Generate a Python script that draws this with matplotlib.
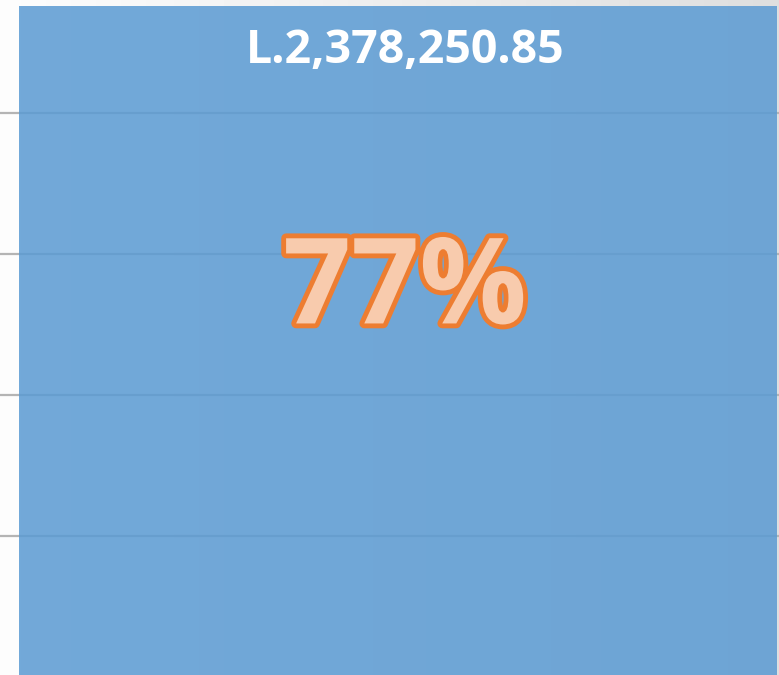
import numpy as np
import matplotlib.pyplot as plt
import matplotlib.patheffects as pe

categories = ['Total']
values = [2378250.85]
percent_labels = ['77%']
value_labels = ['L.2,378,250.85']
grid_values = [500000, 1000000, 1500000, 2000000]

fig = plt.figure(figsize=(7.79, 6.75), dpi=100)
ax = fig.add_axes([0, 0, 1, 1])

# background: light horizontal gradient, white -> light gray
grad = np.linspace(1.0, 0.86, 256).reshape(1, -1)
ax.imshow(grad, cmap='gray', vmin=0, vmax=1, aspect='auto',
          extent=[-0.6, 0.6, 0, 2500000], zorder=0)

for g in grid_values:
    ax.axhline(g, color='#b4b4b4', lw=1.6, zorder=1)

x = np.arange(len(categories))
ax.bar(x, values, width=1.0, color='#5b9bd3', alpha=0.86, zorder=2)

for xi, v, vl, pl in zip(x, values, value_labels, percent_labels):
    ax.annotate(vl, (xi, v), xytext=(5, -49), textcoords='offset points',
                ha='center', va='bottom', color='white', fontsize=33.5,
                fontweight='bold', family='Open Sans', zorder=3)
    t = ax.annotate(pl, (xi, v), xytext=(5, -206), textcoords='offset points',
                    ha='center', va='center', color='#f8cbad', fontsize=86,
                    fontweight='bold', family='Open Sans', zorder=3)
    t.set_path_effects([pe.Stroke(linewidth=7, foreground='#ed7d31'), pe.Normal()])

ax.set_xlim(-0.5 - 19 / 758, 0.5 + 2 / 758)
ax.set_ylim(7092, 2400709)
ax.axis('off')

fig.savefig('out.png', dpi=100)
